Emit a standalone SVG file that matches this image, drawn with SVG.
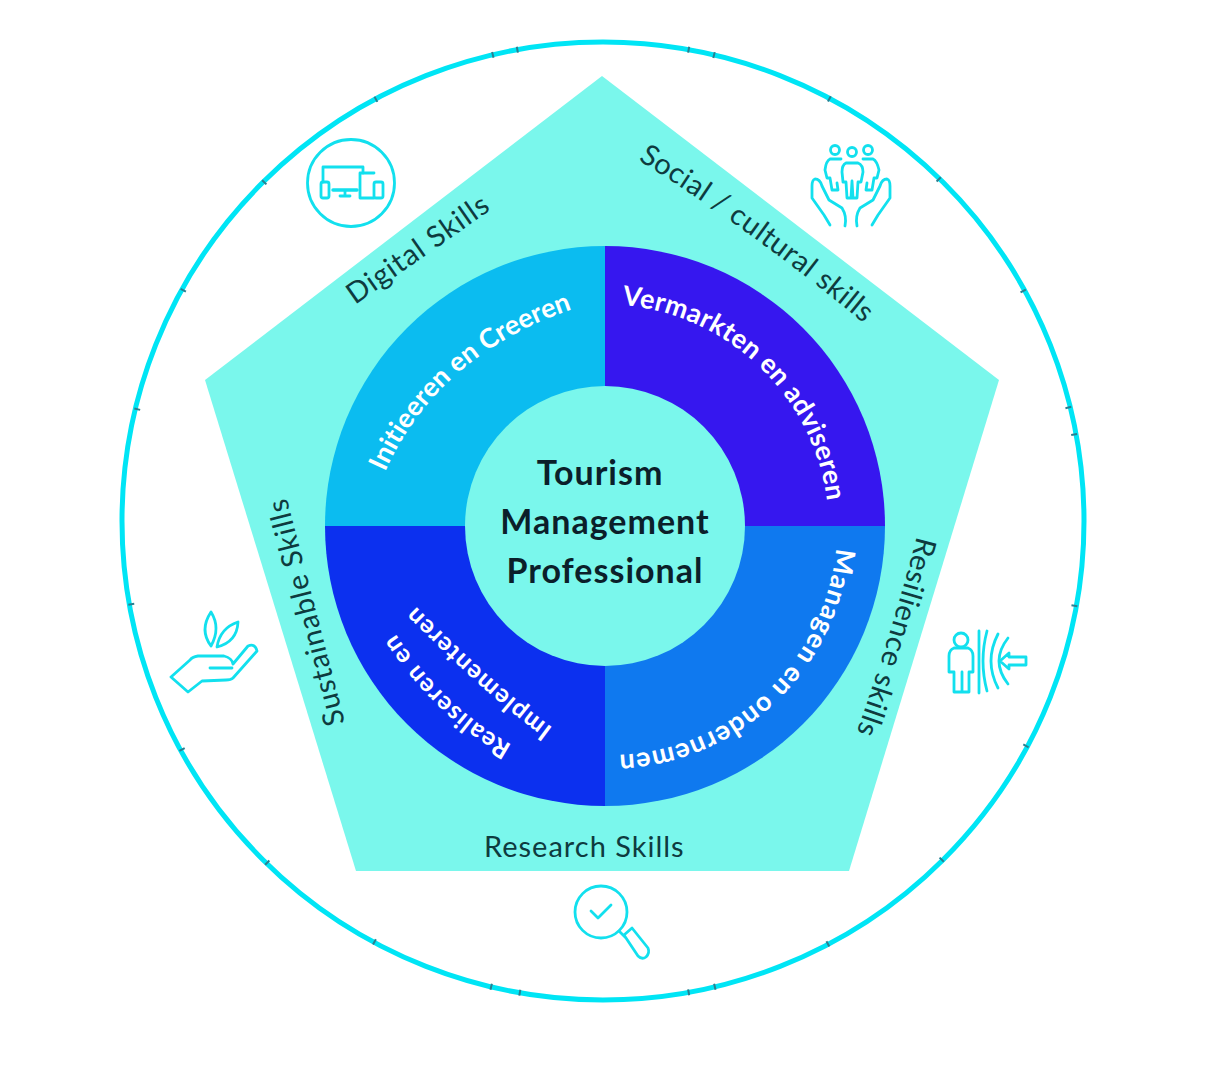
<svg xmlns="http://www.w3.org/2000/svg" width="1232" height="1065" viewBox="0 0 1232 1065">
<style>
text{font-family:Lato,"Open Sans","Liberation Sans",sans-serif}
.sk{font-size:29px;fill:#0e3b3f;letter-spacing:1px}
.q{font-size:27px;font-weight:700;fill:#fff;letter-spacing:1px}
.q2{font-size:25px;font-weight:700;fill:#fff;letter-spacing:1.2px}
.t{font-size:34px;font-weight:700;fill:#0b1f2a;text-anchor:middle;letter-spacing:1px}
.i{fill:none;stroke:#12e0ee;stroke-width:2.8;stroke-linecap:round;stroke-linejoin:round}
</style>
<defs>
<path id="tk" d="M603 39V45" fill="none" stroke="#2a7f90" stroke-width="2"/>
<path id="pInit" d="M385 472 Q440 350 585 305"/>
<path id="pVer" d="M622 305 A226 226 0 0 1 829 525"/>
<path id="pMan" d="M836 548 A228 228 0 0 1 610 755"/>
<path id="pRea" d="M512 745 Q440 705 390 625"/>
<path id="pImp" d="M553 728 Q485 678 400 590"/>
<path id="pSoc" d="M638 160 Q755 232 878 335"/>
<path id="pRes" d="M917 536 Q890 640 852 745"/>
</defs>
<rect width="1232" height="1065" fill="#fff"/>
<g id="outer-ring"><ellipse cx="603" cy="521" rx="481" ry="479" fill="#fff" stroke="#00e5f5" stroke-width="5"/>
<use href="#tk" transform="rotate(-13.300 603 521)"/><use href="#tk" transform="rotate(-10.300 603 521)"/><use href="#tk" transform="rotate(10.300 603 521)"/><use href="#tk" transform="rotate(13.400 603 521)"/><use href="#tk" transform="rotate(28.200 603 521)"/><use href="#tk" transform="rotate(44.500 603 521)"/><use href="#tk" transform="rotate(61.300 603 521)"/><use href="#tk" transform="rotate(76.300 603 521)"/><use href="#tk" transform="rotate(79.600 603 521)"/><use href="#tk" transform="rotate(100.200 603 521)"/><use href="#tk" transform="rotate(118 603 521)"/><use href="#tk" transform="rotate(135 603 521)"/><use href="#tk" transform="rotate(152 603 521)"/><use href="#tk" transform="rotate(166.500 603 521)"/><use href="#tk" transform="rotate(169.700 603 521)"/><use href="#tk" transform="rotate(190 603 521)"/><use href="#tk" transform="rotate(193.500 603 521)"/><use href="#tk" transform="rotate(208.500 603 521)"/><use href="#tk" transform="rotate(224.500 603 521)"/><use href="#tk" transform="rotate(241.500 603 521)"/><use href="#tk" transform="rotate(260 603 521)"/><use href="#tk" transform="rotate(283.500 603 521)"/><use href="#tk" transform="rotate(298.800 603 521)"/><use href="#tk" transform="rotate(315 603 521)"/><use href="#tk" transform="rotate(331.700 603 521)"/></g>
<g id="pentagon"><polygon points="602,76 999,380 849,871 356,871 205,380" fill="#7af7ec"/></g>
<g id="q-init"><path d="M605 526H325A280 280 0 0 1 605 246Z" fill="#0bbcf0"/><text class="q" style="letter-spacing:.1px"><textPath href="#pInit">Initieeren en Creeren</textPath></text></g>
<g id="q-ver"><path d="M605 526V246A280 280 0 0 1 885 526Z" fill="#3617ef"/><text class="q" style="letter-spacing:.3px"><textPath href="#pVer">Vermarkten en adviseren</textPath></text></g>
<g id="q-man"><path d="M605 526H885A280 280 0 0 1 605 806Z" fill="#0f79ef"/><text class="q"><textPath href="#pMan">Managen en ondernemen</textPath></text></g>
<g id="q-rea"><path d="M605 526V806A280 280 0 0 1 325 526Z" fill="#0c30ef"/><text class="q2"><textPath href="#pRea">Realiseren en</textPath></text><text class="q2"><textPath href="#pImp">Implementeren</textPath></text></g>
<g id="core"><circle cx="605" cy="526" r="140" fill="#7af7ec"/><text class="t"><tspan x="600" y="485">Tourism</tspan><tspan x="605" y="534">Management</tspan><tspan x="605" y="583">Professional</tspan></text></g>
<g id="digital"><text class="sk" transform="translate(355 305) rotate(-35)">Digital Skills</text>
<g class="i"><circle cx="351" cy="183" r="43.500"/><path d="M323 182V167H363V173"/><path d="M333 190H357" stroke-width="3.500"/><path d="M345 191V195M340 196H350"/><rect x="321" y="182" width="8" height="16" rx="2"/><path d="M374 173H360V198H374"/><rect x="374" y="182" width="9" height="16" rx="2"/></g></g>
<g id="social"><text class="sk" style="letter-spacing:.6px"><textPath href="#pSoc">Social / cultural skills</textPath></text>
<g class="i"><circle cx="835" cy="150" r="4.500"/><circle cx="852" cy="152" r="4.500"/><circle cx="868" cy="150" r="4.500"/>
<path d="M846 163H858Q863 165 863 172L861 182H858L857 198H853L852 181L851 198H847L846 182H843L842 172Q842 165 846 163Z"/>
<path d="M841 159H830Q826 161 825 170L827 178H830L832 190H838L837 183"/><path d="M863 159H873Q877 161 879 170L877 178H874L872 190H866L867 183"/>
<path d="M845 226Q847 216 842 208L829 200L822 186Q820 179 815 179Q812 180 812 186V198L824 215L830 225"/><path d="M857 226Q855 216 860 208L873 200L880 186Q882 179 887 179Q890 180 890 186V198L878 215L872 225"/></g></g>
<g id="sustainable"><text class="sk" transform="translate(345 723) rotate(-104.500)">Sustainable Skills</text>
<g class="i"><path d="M211 612Q221 628 211 646Q199 630 211 612ZM238 622Q237 642 217 647Q220 628 238 622Z"/><path d="M171 677L190 660Q192 657 198 656H224Q232 658 233 664L248 646Q255 643 257 651L233 678Q231 680 226 680L202 681L188 692Z"/><path d="M210 668H232"/></g></g>
<g id="resilience"><text class="sk" style="letter-spacing:.7px"><textPath href="#pRes">Resilience skills</textPath></text>
<g class="i"><circle cx="961" cy="640" r="7"/><path d="M954 648H968Q973 650 973 656V672H969V692H962V672V692H954V672H949V656Q949 650 954 648Z"/><path d="M979 631V693M987 631Q979 661 987 691M998 634Q984 661 998 688M1008 638Q990 661 1008 684"/><path d="M1000 661L1009 653V657H1026V665H1009V669Z"/></g></g>
<g id="research"><text class="sk" x="484" y="857">Research Skills</text>
<g class="i"><circle cx="601" cy="912" r="26"/><path d="M591 911L598 918L611 905"/><path d="M619 931L626 938M624 935L632 928L648 948Q650 953 646 957Q642 960 638 956Z"/></g></g>
</svg>
